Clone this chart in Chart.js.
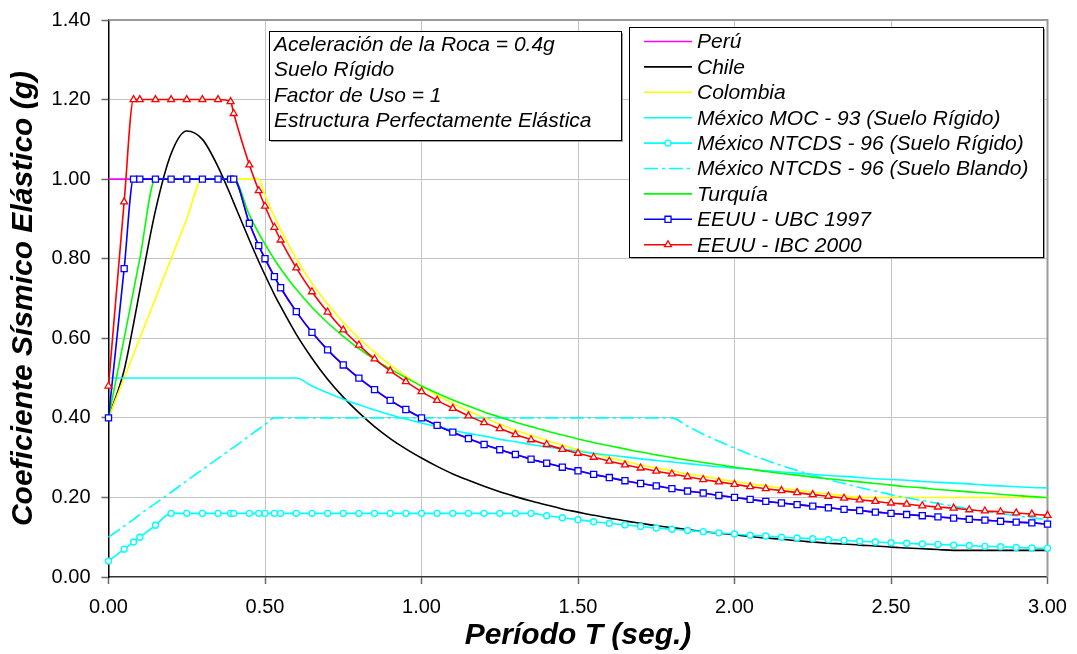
<!DOCTYPE html>
<html lang="es">
<head>
<meta charset="utf-8">
<title>Espectros elásticos de diseño</title>
<script src="https://cdn.jsdelivr.net/npm/chart.js@4.4.1/dist/chart.umd.min.js"></script>
<style>
  html, body { margin: 0; padding: 0; background: #fff; }
  #marco { position: relative; width: 1077px; height: 654px; }
</style>
</head>
<body>
<div id="marco"><canvas id="espectro" width="1077" height="654"></canvas></div>
<script>
// Periodos T (seg.) comunes a todas las normas
var periodos = [0, 0.05, 0.08, 0.1, 0.15, 0.2, 0.25, 0.3, 0.35, 0.39, 0.4, 0.45, 0.48, 0.5, 0.53,
  0.55, 0.6, 0.65, 0.7, 0.75, 0.8, 0.85, 0.9, 0.95, 1.0,
  1.05, 1.1, 1.15, 1.2, 1.25, 1.3, 1.35, 1.4, 1.45, 1.5,
  1.55, 1.6, 1.65, 1.7, 1.75, 1.8, 1.85, 1.9, 1.95, 2.0,
  2.05, 2.1, 2.15, 2.2, 2.25, 2.3, 2.35, 2.4, 2.45, 2.5,
  2.55, 2.6, 2.65, 2.7, 2.75, 2.8, 2.85, 2.9, 2.95, 3.0];

// Coeficiente sísmico elástico (g) de cada norma
var peru = [1, 1, 1, 1, 1, 1, 1, 1, 1, 1, 1, 0.889, 0.833, 0.8, 0.755,
  0.727, 0.667, 0.615, 0.571, 0.533, 0.5, 0.471, 0.444, 0.421, 0.4,
  0.381, 0.364, 0.348, 0.333, 0.32, 0.308, 0.296, 0.286, 0.276, 0.267,
  0.258, 0.25, 0.242, 0.235, 0.229, 0.222, 0.216, 0.211, 0.205, 0.2,
  0.195, 0.19, 0.186, 0.182, 0.178, 0.174, 0.17, 0.167, 0.163, 0.16,
  0.157, 0.154, 0.151, 0.148, 0.145, 0.143, 0.14, 0.138, 0.136, 0.133];

var chile = [0.4, 0.52, 0.636, 0.72, 0.921, 1.064, 1.121, 1.1, 1.031, 0.96, 0.941, 0.847, 0.793, 0.759, 0.71,
  0.68, 0.61, 0.55, 0.497, 0.452, 0.413, 0.378, 0.348, 0.322, 0.299,
  0.278, 0.259, 0.243, 0.228, 0.214, 0.202, 0.191, 0.181, 0.171, 0.163,
  0.155, 0.148, 0.141, 0.135, 0.129, 0.124, 0.119, 0.114, 0.11, 0.106,
  0.102, 0.098, 0.095, 0.091, 0.088, 0.085, 0.083, 0.08, 0.078, 0.075,
  0.073, 0.071, 0.069, 0.067, 0.067, 0.067, 0.067, 0.067, 0.067, 0.067];

var colombia = [0.4, 0.5, 0.56, 0.6, 0.7, 0.8, 0.9, 1, 1, 1, 1, 1, 1, 0.96, 0.906,
  0.873, 0.8, 0.738, 0.686, 0.64, 0.6, 0.565, 0.533, 0.505, 0.48,
  0.457, 0.436, 0.417, 0.4, 0.384, 0.369, 0.356, 0.343, 0.331, 0.32,
  0.31, 0.3, 0.291, 0.282, 0.274, 0.267, 0.259, 0.253, 0.246, 0.24,
  0.234, 0.229, 0.223, 0.218, 0.213, 0.209, 0.204, 0.2, 0.2, 0.2,
  0.2, 0.2, 0.2, 0.2, 0.2, 0.2, 0.2, 0.2, 0.2, 0.2];

var mexicoMoc = [0.5, 0.5, 0.5, 0.5, 0.5, 0.5, 0.5, 0.5, 0.5, 0.5, 0.5, 0.5, 0.5, 0.5, 0.5,
  0.5, 0.5, 0.48, 0.463, 0.447, 0.433, 0.42, 0.408, 0.397, 0.387,
  0.378, 0.369, 0.361, 0.354, 0.346, 0.34, 0.333, 0.327, 0.322, 0.316,
  0.311, 0.306, 0.302, 0.297, 0.293, 0.289, 0.285, 0.281, 0.277, 0.274,
  0.271, 0.267, 0.264, 0.261, 0.258, 0.255, 0.253, 0.25, 0.247, 0.245,
  0.243, 0.24, 0.238, 0.236, 0.234, 0.231, 0.229, 0.227, 0.225, 0.224];

var mexicoRigido = [0.04, 0.07, 0.088, 0.1, 0.13, 0.16, 0.16, 0.16, 0.16, 0.16, 0.16, 0.16, 0.16, 0.16, 0.16,
  0.16, 0.16, 0.16, 0.16, 0.16, 0.16, 0.16, 0.16, 0.16, 0.16,
  0.16, 0.16, 0.16, 0.16, 0.16, 0.16, 0.16, 0.154, 0.149, 0.144,
  0.139, 0.135, 0.131, 0.127, 0.123, 0.12, 0.117, 0.114, 0.111, 0.108,
  0.105, 0.103, 0.1, 0.098, 0.096, 0.094, 0.092, 0.09, 0.088, 0.086,
  0.085, 0.083, 0.082, 0.08, 0.079, 0.077, 0.076, 0.074, 0.073, 0.072];

var mexicoBlando = [0.1, 0.128, 0.145, 0.157, 0.185, 0.213, 0.242, 0.27, 0.298, 0.321, 0.326, 0.355, 0.372, 0.383, 0.4,
  0.4, 0.4, 0.4, 0.4, 0.4, 0.4, 0.4, 0.4, 0.4, 0.4,
  0.4, 0.4, 0.4, 0.4, 0.4, 0.4, 0.4, 0.4, 0.4, 0.4,
  0.4, 0.4, 0.4, 0.4, 0.4, 0.4, 0.379, 0.359, 0.341, 0.324,
  0.308, 0.294, 0.28, 0.268, 0.256, 0.245, 0.235, 0.225, 0.216, 0.207,
  0.199, 0.192, 0.185, 0.178, 0.171, 0.165, 0.16, 0.154, 0.149, 0.144];

var turquia = [0.4, 0.6, 0.72, 0.8, 1, 1, 1, 1, 1, 1, 1, 0.91, 0.864, 0.837, 0.798,
  0.775, 0.723, 0.678, 0.639, 0.605, 0.574, 0.547, 0.523, 0.501, 0.48,
  0.462, 0.445, 0.43, 0.415, 0.402, 0.389, 0.378, 0.367, 0.357, 0.347,
  0.338, 0.33, 0.322, 0.314, 0.307, 0.3, 0.294, 0.288, 0.282, 0.276,
  0.271, 0.265, 0.26, 0.256, 0.251, 0.247, 0.243, 0.239, 0.235, 0.231,
  0.227, 0.224, 0.22, 0.217, 0.214, 0.211, 0.208, 0.205, 0.202, 0.2];

var ubc1997 = [0.4, 0.775, 1, 1, 1, 1, 1, 1, 1, 1, 1, 0.889, 0.833, 0.8, 0.755,
  0.727, 0.667, 0.615, 0.571, 0.533, 0.5, 0.471, 0.444, 0.421, 0.4,
  0.381, 0.364, 0.348, 0.333, 0.32, 0.308, 0.296, 0.286, 0.276, 0.267,
  0.258, 0.25, 0.242, 0.235, 0.229, 0.222, 0.216, 0.211, 0.205, 0.2,
  0.195, 0.19, 0.186, 0.182, 0.178, 0.174, 0.17, 0.167, 0.163, 0.16,
  0.157, 0.154, 0.151, 0.148, 0.145, 0.143, 0.14, 0.138, 0.136, 0.133];

var ibc2000 = [0.48, 0.943, 1.2, 1.2, 1.2, 1.2, 1.2, 1.2, 1.2, 1.195, 1.165, 1.036, 0.971, 0.932, 0.879,
  0.847, 0.777, 0.717, 0.666, 0.621, 0.583, 0.548, 0.518, 0.491, 0.466,
  0.444, 0.424, 0.405, 0.388, 0.373, 0.358, 0.345, 0.333, 0.321, 0.311,
  0.301, 0.291, 0.282, 0.274, 0.266, 0.259, 0.252, 0.245, 0.239, 0.233,
  0.227, 0.222, 0.217, 0.212, 0.207, 0.203, 0.198, 0.194, 0.19, 0.186,
  0.183, 0.179, 0.176, 0.173, 0.169, 0.166, 0.164, 0.161, 0.158, 0.155];

var ticksX = [0, 0.5, 1.0, 1.5, 2.0, 2.5, 3.0];
var ticksY = [0, 0.2, 0.4, 0.6, 0.8, 1.0, 1.2, 1.4];

var notas = ['Aceleración de la Roca = 0.4g', 'Suelo Rígido', 'Factor de Uso = 1',
  'Estructura Perfectamente Elástica'];

var FUENTE = '"Liberation Sans", Arial, Helvetica, sans-serif';

function serie(nombre, valores, color, extra) {
  var ds = {
    label: nombre,
    data: periodos.map(function (t, i) { return { x: t, y: valores[i] }; }),
    borderColor: color,
    backgroundColor: color,
    borderWidth: 1.6,
    pointRadius: 0,
    pointHoverRadius: 0,
    cubicInterpolationMode: 'monotone',
    clip: false
  };
  for (var k in extra) ds[k] = extra[k];
  return ds;
}

var series = [
  serie('Perú', peru, '#ff00ff'),
  serie('Chile', chile, '#000000'),
  serie('Colombia', colombia, '#ffff00'),
  serie('México MOC - 93 (Suelo Rígido)', mexicoMoc, '#00ffff'),
  serie('México NTCDS - 96 (Suelo Rígido)', mexicoRigido, '#00ffff',
    { pointRadius: 3, pointStyle: 'circle', pointBackgroundColor: '#ffffff', pointBorderWidth: 1.4 }),
  serie('México NTCDS - 96 (Suelo Blando)', mexicoBlando, '#00ffff', { borderDash: [14, 4, 3, 4] }),
  serie('Turquía', turquia, '#00ff00'),
  serie('EEUU - UBC 1997', ubc1997, '#0000ff',
    { pointRadius: 4.3, pointStyle: 'rect', pointBackgroundColor: '#ffffff', pointBorderWidth: 1.3 }),
  serie('EEUU - IBC 2000', ibc2000, '#ff0000',
    { pointRadius: 4, pointStyle: 'triangle', pointBackgroundColor: '#ffffff', pointBorderWidth: 1.3 })
];
// la última serie queda encima
series.forEach(function (ds, i) { ds.order = series.length - i; });

function caja(ctx, x, y, w, h) {
  ctx.fillStyle = '#a0a0a0';
  ctx.fillRect(x + 2, y + 2, w, h);
  ctx.fillStyle = '#ffffff';
  ctx.fillRect(x, y, w, h);
  ctx.strokeStyle = '#000000';
  ctx.lineWidth = 1;
  ctx.strokeRect(x + 0.5, y + 0.5, w, h);
}

// borde gris superior y derecho del área de trazado
var bordeArea = {
  id: 'bordeArea',
  beforeDatasetsDraw: function (chart) {
    var a = chart.chartArea, ctx = chart.ctx;
    ctx.save();
    ctx.strokeStyle = '#9a9a9a';
    ctx.lineWidth = 2;
    ctx.beginPath();
    ctx.moveTo(a.left, a.top);
    ctx.lineTo(a.right, a.top);
    ctx.lineTo(a.right, a.bottom);
    ctx.stroke();
    ctx.restore();
  }
};

// cuadro de datos y leyenda
var cuadros = {
  id: 'cuadros',
  afterDraw: function (chart) {
    var ctx = chart.ctx;
    ctx.save();
    caja(ctx, 269, 31, 352, 109);
    ctx.fillStyle = '#000000';
    ctx.font = 'italic 21px ' + FUENTE;
    ctx.textBaseline = 'middle';
    ctx.textAlign = 'left';
    notas.forEach(function (txt, i) {
      ctx.fillText(txt, 274, 45 + i * 25.5);
    });

    caja(ctx, 629, 27, 414, 230);
    chart.data.datasets.forEach(function (ds, i) {
      var y = 41.5 + i * 25.4;
      ctx.strokeStyle = ds.borderColor;
      ctx.lineWidth = ds.borderWidth;
      ctx.setLineDash(ds.borderDash || []);
      ctx.beginPath();
      ctx.moveTo(644, y);
      ctx.lineTo(692, y);
      ctx.stroke();
      ctx.setLineDash([]);
      if (ds.pointRadius > 0) {
        ctx.fillStyle = '#ffffff';
        ctx.lineWidth = ds.pointBorderWidth;
        Chart.helpers.drawPoint(ctx, {
          pointStyle: ds.pointStyle, radius: ds.pointRadius, rotation: 0,
          borderWidth: ds.pointBorderWidth
        }, 668, y);
      }
      ctx.fillStyle = '#000000';
      ctx.fillText(ds.label, 697, y + 1);
    });
    ctx.restore();
  }
};

function rejilla(extremos) {
  return function (c) {
    var v = c.tick ? c.tick.value : null;
    return extremos.indexOf(v) >= 0 ? 'rgba(0,0,0,0)' : '#c4c4c4';
  };
}

new Chart(document.getElementById('espectro').getContext('2d'), {
  type: 'line',
  data: { datasets: series },
  options: {
    responsive: false,
    animation: false,
    devicePixelRatio: 1,
    events: [],
    layout: { padding: { top: 20, right: 29.5, bottom: 0, left: 0 } },
    plugins: { legend: { display: false }, tooltip: { enabled: false } },
    scales: {
      x: {
        type: 'linear',
        min: 0,
        max: 3,
        afterBuildTicks: function (s) { s.ticks = ticksX.map(function (v) { return { value: v }; }); },
        afterFit: function (s) { s.height = 77; s.paddingLeft = 0; s.paddingRight = 0; },
        ticks: {
          color: '#000',
          padding: 11,
          maxRotation: 0,
          font: { family: FUENTE, size: 20 },
          callback: function (v) { return Number(v).toFixed(2); }
        },
        grid: {
          color: rejilla([0, 3]),
          borderDash: [8, 5],
          tickColor: '#6a6a6a',
          tickBorderDash: [],
          tickLength: 7,
          tickWidth: 1.5
        },
        border: { color: '#333', width: 1.5 },
        title: {
          display: true,
          text: 'Período T (seg.)',
          color: '#000',
          font: { family: FUENTE, size: 30, style: 'italic', weight: 'bold' },
          padding: { top: 0, bottom: 0 }
        }
      },
      y: {
        type: 'linear',
        min: 0,
        max: 1.4,
        afterBuildTicks: function (s) { s.ticks = ticksY.map(function (v) { return { value: v }; }); },
        afterFit: function (s) { s.width = 108.5; s.paddingTop = 0; s.paddingBottom = 0; },
        ticks: {
          color: '#000',
          padding: 11,
          font: { family: FUENTE, size: 20 },
          callback: function (v) { return Number(v).toFixed(2); }
        },
        grid: {
          color: rejilla([0, 1.4]),
          borderDash: [8, 5],
          tickColor: '#6a6a6a',
          tickBorderDash: [],
          tickLength: 7,
          tickWidth: 1.5
        },
        border: { color: '#000', width: 1.5 },
        title: {
          display: true,
          text: 'Coeficiente Sísmico Elástico (g)',
          color: '#000',
          font: { family: FUENTE, size: 30, style: 'italic', weight: 'bold' },
          padding: { top: 6, bottom: 0 }
        }
      }
    }
  },
  plugins: [bordeArea, cuadros]
});
</script>
</body>
</html>
